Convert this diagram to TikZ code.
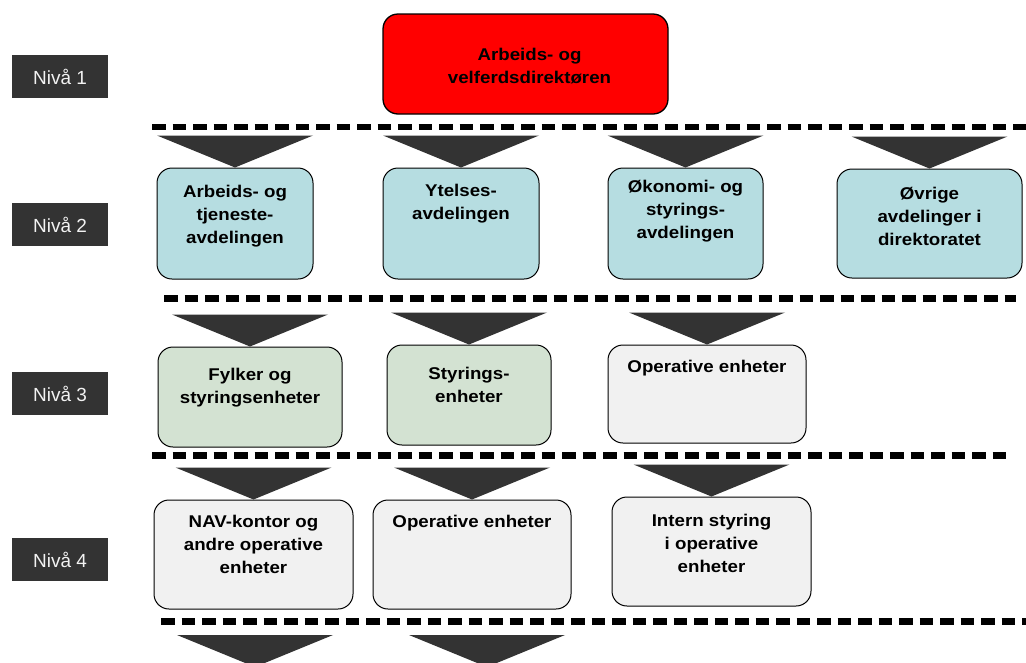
\documentclass[tikz,border=0pt]{standalone}
\usepackage{fontspec}
\setmainfont{Liberation Sans}
\newfontfamily\bxfont[FakeStretch=1.1]{Liberation Sans}
\usetikzlibrary{calc}
\definecolor{lvlgray}{HTML}{333333}
\definecolor{boxblue}{HTML}{B6DDE1}
\definecolor{boxgreen}{HTML}{D3E2D2}
\definecolor{boxgrey}{HTML}{F1F1F1}
\definecolor{boxred}{HTML}{FF0000}
\begin{document}
\begin{tikzpicture}[x=1pt,y=-1pt,
  lvl/.style={fill=lvlgray, text=white!95!black, minimum width=96pt, minimum height=43pt, inner sep=0pt, font=\fontsize{19}{22}\selectfont},
  orgbox/.style={draw=black, line width=1pt, rounded corners=15pt, inner sep=0pt},
  bluebox/.style={orgbox, fill=boxblue},
  greenbox/.style={orgbox, fill=boxgreen},
  greybox/.style={orgbox, fill=boxgrey},
  redbox/.style={orgbox, fill=boxred, line width=1.3pt},
  txt/.style={inner sep=0pt, anchor=base, font=\bxfont\bfseries\fontsize{17}{23}\selectfont},
  sepline/.style={line width=7pt, dash pattern=on 13.5pt off 7pt},
  tri/.style={fill=lvlgray}]
\clip (0,0) rectangle (1026,662);
\fill[white] (0,0) rectangle (1026,662);

% level labels
\node[lvl] (n1) at (60,76.5) {Nivå 1};
\node[lvl] (n2) at (60,224.5) {Nivå 2};
\node[lvl] (n3) at (60,393.5) {Nivå 3};
\node[lvl] (n4) at (60,559.5) {Nivå 4};

% separators
\draw[sepline, line width=6.5pt] (152,127) -- (1026,127);
\draw[sepline] (164,298) -- (1016,298);
\draw[sepline] (152,455) -- (1010,455);
\draw[sepline] (161,621) -- (1026,621);

% level 1
\node[redbox, minimum width=285pt, minimum height=100pt] (b1) at (525.5,64) {};
\node[txt] (t1) at ($(b1.north)+(4,47)$) {\parbox[t]{270pt}{\centering Arbeids- og\\velferdsdirektøren}};

% level 2
\node[bluebox, minimum width=156pt, minimum height=111pt] (b21) at (235,223.5) {};
\node[bluebox, minimum width=156pt, minimum height=111pt] (b22) at (461,223.5) {};
\node[bluebox, minimum width=155pt, minimum height=111pt] (b23) at (685.5,223.5) {};
\node[bluebox, minimum width=185pt, minimum height=109pt] (b24) at (929.5,223.5) {};
\node[txt] (t21) at ($(b21.north)+(0,30)$) {\parbox[t]{150pt}{\centering Arbeids- og\\tjeneste-\\avdelingen}};
\node[txt] (t22) at ($(b22.north)+(0,29)$) {\parbox[t]{150pt}{\centering Ytelses-\\avdelingen}};
\node[txt] (t23) at ($(b23.north)+(0,25)$) {\parbox[t]{150pt}{\centering Økonomi- og\\styrings-\\avdelingen}};
\node[txt] (t24) at ($(b24.north)+(0,31)$) {\parbox[t]{180pt}{\centering Øvrige\\avdelinger i\\direktoratet}};

% level 3
\node[greenbox, minimum width=184pt, minimum height=100pt] (b31) at (250,397) {};
\node[greenbox, minimum width=164pt, minimum height=100pt] (b32) at (469,395) {};
\node[greybox, minimum width=198pt, minimum height=98pt] (b33) at (707,394) {};
\node[txt] (t31) at ($(b31.north)+(0,34)$) {\parbox[t]{180pt}{\centering Fylker og\\styringsenheter}};
\node[txt] (t32) at ($(b32.north)+(0,35)$) {\parbox[t]{160pt}{\centering Styrings-\\enheter}};
\node[txt] (t33) at ($(b33.north)+(0,28)$) {\parbox[t]{190pt}{\centering Operative enheter}};

% level 4
\node[greybox, minimum width=199pt, minimum height=109pt] (b41) at (253.5,554.5) {};
\node[greybox, minimum width=198pt, minimum height=109pt] (b42) at (472,554.5) {};
\node[greybox, minimum width=199pt, minimum height=109pt] (b43) at (711.5,551.5) {};
\node[txt] (t41) at ($(b41.north)+(0,28)$) {\parbox[t]{190pt}{\centering NAV-kontor og\\andre operative\\enheter}};
\node[txt] (t42) at ($(b42.north)+(0,28)$) {\parbox[t]{190pt}{\centering Operative enheter}};
\node[txt] (t43) at ($(b43.north)+(0,30)$) {\parbox[t]{190pt}{\centering Intern styring\\i operative\\enheter}};

% arrows (triangles)
\foreach \b in {b21,b22,b23,b24,b31,b32,b33,b41,b42,b43}
  \fill[tri] ($(\b.north)+(-78,-32)$) -- ($(\b.north)+(78,-32)$) -- (\b.north) -- cycle;

% bottom triangles (cut off by the picture edge)
\coordinate (c51) at (255,667);
\coordinate (c52) at (487,667);
\fill[tri] ($(c51)+(-78,-32)$) -- ($(c51)+(78,-32)$) -- (c51) -- cycle;
\fill[tri] ($(c52)+(-78,-32)$) -- ($(c52)+(78,-32)$) -- (c52) -- cycle;
\end{tikzpicture}
\end{document}
